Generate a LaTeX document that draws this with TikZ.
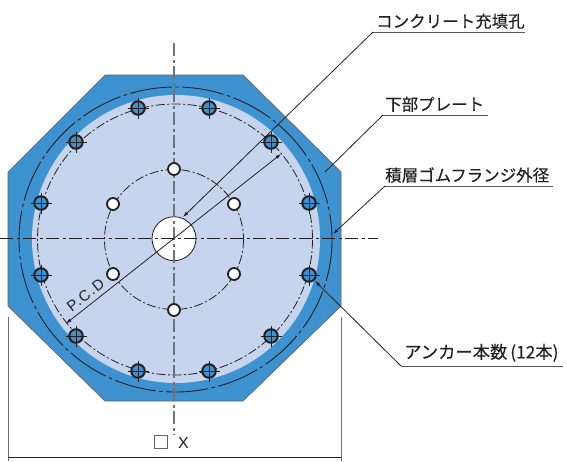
\documentclass[tikz,border=0pt]{standalone}
\usepackage{fontspec}
\newfontfamily\jp[FakeBold=0.25]{Noto Sans CJK JP}
\setmainfont{Liberation Sans}
\newfontfamily\spaced[LetterSpace=8]{Liberation Sans}
\definecolor{plateblue}{HTML}{3F92D0}
\definecolor{lightblue}{HTML}{C6D4EE}
\definecolor{ink}{HTML}{231F20}
\definecolor{cline}{HTML}{6E7278}
\usetikzlibrary{arrows.meta}
\tikzset{
  lead/.style={draw=ink,line width=0.8pt},
  under/.style={draw=ink!75,line width=1pt},
  tipped/.style={lead,-{Latex[length=5.5pt,width=3.6pt]}},
  lab/.style={font=\jp\fontsize{16.5}{16.5}\selectfont,text=ink,inner sep=0pt,anchor=south west},
  anchorhole/.style={circle,draw=ink,line width=2pt,fill=plateblue,minimum size=13.5pt,inner sep=0pt},
  innerhole/.style={circle,draw=ink,line width=1.8pt,fill=white,minimum size=12pt,inner sep=0pt},
  pcd/.style={draw=ink,line width=0.8pt,dash pattern=on 9pt off 2.5pt on 2pt off 2.5pt},
  cen/.style={draw=ink,line width=0.7pt,dash pattern=on 13pt off 3.5pt on 3pt off 3.5pt},
  cenv/.style={draw=cline,line width=1.2pt,dash pattern=on 13pt off 3.5pt on 3pt off 3.5pt},
  ext/.style={draw=cline,line width=1pt},
}
\begin{document}
\begin{tikzpicture}[x=1pt,y=-1pt]
\useasboundingbox (0,0) rectangle (567,461);
\coordinate (c) at (174,238.7);
% plate
\fill[plateblue] (105,75)--(243,75)--(341,172)--(341,306)--(243,401)--(105,401)--(8,306)--(8,172)--cycle;
\draw[draw=ink!70,line width=0.7pt] (105,75)--(243,75)--(341,172)--(341,306)--(243,401)--(105,401)--(8,306)--(8,172)--cycle;
\fill[lightblue] (176,239) ellipse [x radius=144,y radius=144];
% flange circle
\draw[draw=ink,line width=0.9pt,dash pattern=on 42pt off 3.5pt on 3.5pt off 3.5pt] (175.5,239.5) ellipse [x radius=156.5,y radius=152.5];
% PCD circles
\draw[pcd] (175,239.5) ellipse [x radius=137.5,y radius=135.5];
\draw[pcd] (174,239.5) ellipse [x radius=69.5,y radius=70];
% centre hole
\node[circle,draw=ink,line width=0.8pt,fill=white,minimum size=44pt,inner sep=0pt] (bore) at (c) {};
% centre lines
\coordinate (hl) at (0,238);
\coordinate (hr) at (378,238);
\coordinate (vt) at (174,43);
\coordinate (vb) at (174,435);
\draw[cen] (hl)--(hr);
\draw[cenv] (vt)--(vb);
% anchor holes
\foreach \n/\x/\y in {a1/138/108,a2/209/108,a3/271/142,a4/309/203,a5/309/275,a6/271/336,a7/209/371,a8/138/371,a9/76/336,a10/41/275,a11/41/203,a12/76/142}{
  \node[anchorhole] (\n) at (\x,\y) {};
  \draw[draw=ink,line width=0.6pt] (\x-10.5,\y)--(\x+10.5,\y) (\x,\y-10.5)--(\x,\y+10.5);
}
% inner holes
\foreach \n/\x/\y in {b1/174/169,b2/234/204,b3/234/274,b4/174/310,b5/113/274,b6/113/204}{
  \node[innerhole] (\n) at (\x,\y) {};
}
% PCD dimension
\coordinate (p1) at (66,323.5);
\coordinate (p2) at (281,154);
\draw[lead,{Latex[length=5.5pt,width=3.6pt]}-{Latex[length=5.5pt,width=3.6pt]}] (p1)--(p2);
\node[font=\spaced\fontsize{15}{15}\selectfont,text=ink,rotate=38,inner sep=0pt] (pcdlab) at (85.5,295) {P.C.D};
% labels
\node[lab] (l1) at (376,29) {コンクリート充填孔};
\coordinate (e1) at (373,32); \coordinate (t1) at (183,217); \coordinate (f1) at (525,32);
\draw[under] (e1)--(f1);
\draw[tipped] (e1)--(t1);
\node[lab] (l2) at (385,112) {下部プレート};
\coordinate (e2) at (383,115); \coordinate (t2) at (325,172); \coordinate (f2) at (488,115);
\draw[under] (e2)--(f2);
\draw[lead] (e2)--(t2);
\node[lab] (l3) at (385,183) {積層ゴムフランジ外径};
\coordinate (e3) at (385,186); \coordinate (t3) at (333,234); \coordinate (f3) at (553,186);
\draw[under] (e3)--(f3);
\draw[tipped] (e3)--(t3);
\node[lab,font=\jp\fontsize{17.3}{17.3}\selectfont] (l4) at (404,362) {アンカー本数\hspace{3pt}(12本)};
\coordinate (e4) at (401,366); \coordinate (t4) at (315,281); \coordinate (f4) at (563,366);
\draw[under] (e4)--(f4);
\draw[tipped] (e4)--(t4);
% X dimension
\coordinate (xl) at (8,317); \coordinate (xlb) at (8,461);
\coordinate (xr) at (341,317); \coordinate (xrb) at (341,461);
\coordinate (dl) at (8,457); \coordinate (dr) at (341,457);
\draw[ext] (xl)--(xlb);
\draw[ext] (xr)--(xrb);
\draw[lead] (dl)--(dr);
\node[draw=ink!70,line width=0.6pt,minimum size=12.5pt,inner sep=0pt] (sq) at (161,442) {};
\node[font=\fontsize{16}{16}\selectfont,text=ink,inner sep=0pt] (xlab) at (183.5,443) {X};
\end{tikzpicture}
\end{document}
